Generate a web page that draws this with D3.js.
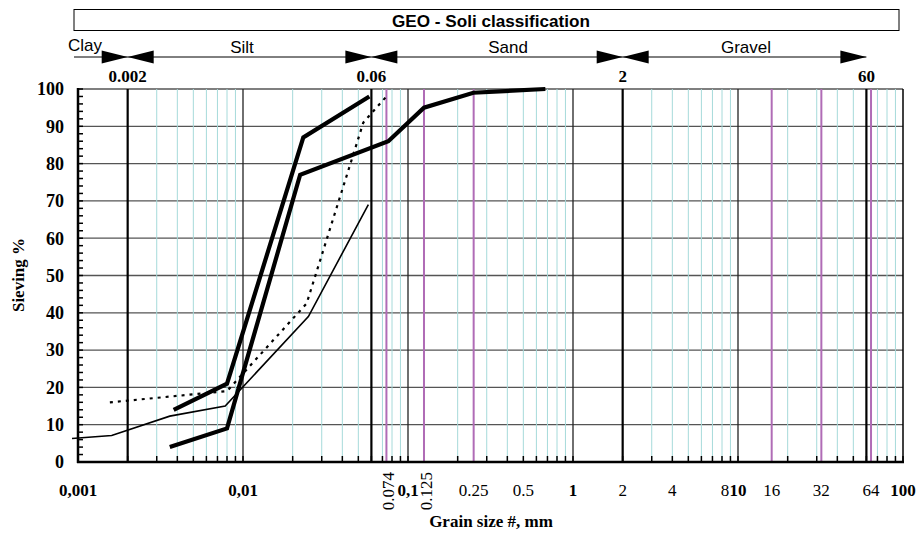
<!DOCTYPE html>
<html><head><meta charset="utf-8">
<script src="https://cdn.jsdelivr.net/npm/d3@7"></script>
<style>body{margin:0;background:#fff}svg{display:block}</style>
</head><body>
<svg id="c" width="919" height="533"></svg>
<script>
// ---------- data ----------
const titleText = "GEO - Soli classification";
const classNames = ["Clay", "Silt", "Sand", "Gravel"];
const classBounds = [0.002, 0.06, 2, 60];
const boundLabels = ["0.002", "0.06", "2", "60"];
const majorTicks = [0.001, 0.01, 0.1, 1, 10, 100];
const majorLabels = ["0,001", "0,01", "0,1", "1", "10", "100"];
const sieveTicks = [0.25, 0.5, 2, 4, 8, 16, 32, 64];
const sieveLabels = ["0.25", "0.5", "2", "4", "8", "16", "32", "64"];
const sieveRotTicks = [0.074, 0.125];
const sieveRotLabels = ["0.074", "0.125"];
const purpleSieves = [0.074, 0.125, 0.25, 16, 32, 64];
const yTicks = [0, 10, 20, 30, 40, 50, 60, 70, 80, 90, 100];
const xTitle = "Grain size #, mm";
const yTitle = "Sieving %";

// sample curves (grain size mm, passing %)
const curveA_x = [0.0038, 0.008, 0.0232, 0.0583];
const curveA_y = [14, 21, 87, 98];
const curveB_x = [0.0036, 0.008, 0.0222, 0.076, 0.125, 0.249, 0.68];
const curveB_y = [4, 9, 77, 86, 95, 99, 100];
const curveC_x = [0.00156, 0.008, 0.0243, 0.0536, 0.074];
const curveC_y = [16, 19, 42.5, 91, 98];
const curveD_x = [0.00092, 0.0016, 0.0036, 0.0078, 0.0249, 0.0575];
const curveD_y = [6.3, 7.1, 12.3, 15, 39, 69];

// ---------- drawing ----------
const svg = d3.select("#c");
const L = 78, R = 903, T = 89, B = 462;
const x = d3.scaleLog().domain([0.001, 100]).range([L, R]);
const y = d3.scaleLinear().domain([0, 100]).range([B, T]);
const serif = "'Liberation Serif','Times New Roman',serif";
const sans = "'Liberation Sans',Arial,sans-serif";
const CYAN = "#a6dada", PURPLE = "#b06cb6", GRID = "#555";

// minor vertical lines
const minors = [];
for (let k = -3; k <= 1; k++) for (let m = 2; m <= 9; m++) minors.push(m * Math.pow(10, k));
const isBound = v => classBounds.some(b => Math.abs(b - v) / b < 1e-6);
const g = svg.append("g");

// horizontal grid
g.selectAll(".hg").data(yTicks).join("line")
  .attr("x1", L).attr("x2", R).attr("y1", d => y(d)).attr("y2", d => y(d))
  .attr("stroke", GRID).attr("stroke-width", 1.3);

g.selectAll(".mv").data(minors.filter(v => !isBound(v))).join("line")
  .attr("x1", d => x(d)).attr("x2", d => x(d)).attr("y1", T).attr("y2", B)
  .attr("stroke", CYAN).attr("stroke-width", 1);

g.selectAll(".Mv").data(majorTicks.slice(1, 5)).join("line")
  .attr("x1", d => x(d)).attr("x2", d => x(d)).attr("y1", T).attr("y2", B)
  .attr("stroke", "#222").attr("stroke-width", 1.3);

g.selectAll(".pv").data(purpleSieves).join("line")
  .attr("x1", d => x(d)).attr("x2", d => x(d)).attr("y1", T).attr("y2", B)
  .attr("stroke", PURPLE).attr("stroke-width", 2);

g.selectAll(".bv").data(classBounds).join("line")
  .attr("x1", d => x(d)).attr("x2", d => x(d)).attr("y1", T).attr("y2", B)
  .attr("stroke", "#000").attr("stroke-width", 2.2);

// right border
g.append("line").attr("x1", R).attr("x2", R).attr("y1", T).attr("y2", B)
  .attr("stroke", "#000").attr("stroke-width", 1.5);

// axes lines
g.append("line").attr("x1", L).attr("x2", L).attr("y1", T - 1).attr("y2", B + 1)
  .attr("stroke", "#000").attr("stroke-width", 2.5);
g.append("line").attr("x1", L - 1).attr("x2", R + 1).attr("y1", B).attr("y2", B)
  .attr("stroke", "#000").attr("stroke-width", 2.5);

// left minor ticks every 2
g.selectAll(".lt").data(d3.range(0, 101, 2)).join("line")
  .attr("x1", L).attr("x2", L + 5).attr("y1", d => y(d)).attr("y2", d => y(d))
  .attr("stroke", "#000").attr("stroke-width", 1.5);

// bottom ticks
const allX = minors.concat(majorTicks);
g.selectAll(".bt").data(allX).join("line")
  .attr("x1", d => x(d)).attr("x2", d => x(d)).attr("y1", B).attr("y2", B - 6)
  .attr("stroke", "#000").attr("stroke-width", 1.5);

// y labels
svg.selectAll(".yl").data(yTicks).join("text")
  .attr("x", 64).attr("y", d => y(d)).attr("dy", "0.35em")
  .attr("text-anchor", "end").attr("font-family", serif).attr("font-weight", "bold")
  .attr("font-size", 18).text(d => d);

// x labels
svg.selectAll(".xM").data(majorTicks).join("text")
  .attr("x", d => x(d)).attr("y", 496).attr("text-anchor", "middle")
  .attr("font-family", serif).attr("font-weight", "bold").attr("font-size", 17)
  .text((d, i) => majorLabels[i]);
svg.selectAll(".xs").data(sieveTicks).join("text")
  .attr("x", d => x(d) + (d === 8 ? 3 : 0)).attr("y", 496).attr("text-anchor", "middle")
  .attr("font-family", serif).attr("font-size", 17)
  .text((d, i) => sieveLabels[i]);
svg.selectAll(".xr").data(sieveRotTicks).join("text")
  .attr("transform", d => `translate(${x(d) + 8},472) rotate(-90)`)
  .attr("text-anchor", "end").attr("font-family", serif).attr("font-size", 17)
  .text((d, i) => sieveRotLabels[i]);

// axis titles
svg.append("text").attr("x", 491).attr("y", 527).attr("text-anchor", "middle")
  .attr("font-family", serif).attr("font-weight", "bold").attr("font-size", 17).text(xTitle);
svg.append("text").attr("transform", "translate(24,275) rotate(-90)").attr("text-anchor", "middle")
  .attr("font-family", serif).attr("font-weight", "bold").attr("font-size", 17).text(yTitle);

// header box
svg.append("rect").attr("x", 74).attr("y", 9.5).attr("width", 825).attr("height", 21)
  .attr("fill", "none").attr("stroke", "#000").attr("stroke-width", 1);
svg.append("text").attr("x", 491).attr("y", 27).attr("text-anchor", "middle")
  .attr("font-family", sans).attr("font-weight", "bold").attr("font-size", 17)
  .attr("textLength", 198).attr("lengthAdjust", "spacingAndGlyphs").text(titleText);

// classification arrows
const cy = 57;
svg.append("line").attr("x1", 74).attr("x2", x(classBounds[3])).attr("y1", cy).attr("y2", cy)
  .attr("stroke", "#000").attr("stroke-width", 1);
classBounds.forEach((b, i) => {
  const bx = x(b);
  svg.append("path").attr("d", `M${bx - 26},${cy - 6.5}L${bx},${cy}L${bx - 26},${cy + 6.5}Z`).attr("fill", "#000");
  if (i < classBounds.length - 1)
    svg.append("path").attr("d", `M${bx},${cy}L${bx + 26},${cy - 6.5}L${bx + 26},${cy + 6.5}Z`).attr("fill", "#000");
});
svg.selectAll(".bl").data(classBounds).join("text")
  .attr("x", d => x(d)).attr("y", 82).attr("text-anchor", "middle")
  .attr("font-family", serif).attr("font-weight", "bold").attr("font-size", 17)
  .text((d, i) => boundLabels[i]);
const classLabelX = [85, 242, 508, 746];
const classLabelY = [51, 53, 53, 53];
svg.selectAll(".cl").data(classNames).join("text")
  .attr("x", (d, i) => classLabelX[i]).attr("y", (d, i) => classLabelY[i]).attr("text-anchor", "middle")
  .attr("font-family", sans).attr("font-size", 17).text(d => d);

// curves
const line = d3.line().x(d => x(d[0])).y(d => y(d[1]));
const zip = (xs, ys) => xs.map((v, i) => [v, ys[i]]);
const curves = [
  {d: zip(curveD_x, curveD_y), w: 1.6, dash: null},
  {d: zip(curveC_x, curveC_y), w: 2.2, dash: "3,5"},
  {d: zip(curveA_x, curveA_y), w: 4.2, dash: null},
  {d: zip(curveB_x, curveB_y), w: 4.2, dash: null}
];
curves.forEach(c => {
  svg.append("path").attr("d", line(c.d)).attr("fill", "none").attr("stroke", "#000")
    .attr("stroke-width", c.w).attr("stroke-dasharray", c.dash)
    .attr("stroke-linejoin", "miter");
});
</script>
</body></html>
